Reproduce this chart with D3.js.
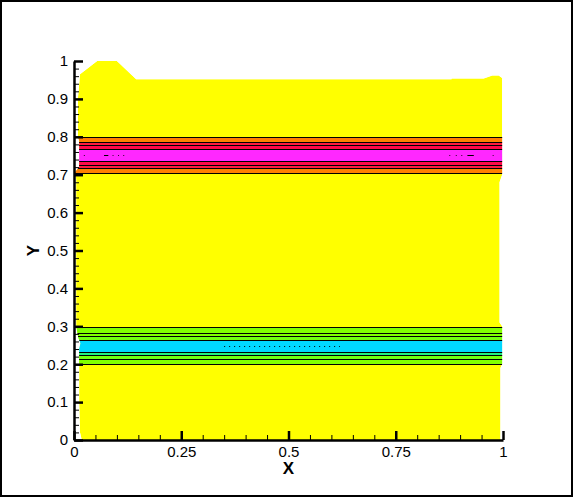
<!DOCTYPE html>
<html>
<head>
<meta charset="utf-8">
<script src="https://cdn.jsdelivr.net/npm/d3@7"></script>
<style>
  body { margin: 0; background: #fff; }
  svg { display: block; }
</style>
</head>
<body>
<div id="chart"></div>
<script>
// Chart size
var W = 573, H = 497;
var margin = { top: 61, right: 70, bottom: 57, left: 74 };

// Tick values
var xMajor = [0, 0.25, 0.5, 0.75, 1];
var xMinor = [0.05, 0.1, 0.15, 0.2, 0.3, 0.35, 0.4, 0.45, 0.55, 0.6, 0.65, 0.7, 0.8, 0.85, 0.9, 0.95];
var yMajor = [0, 0.1, 0.2, 0.3, 0.4, 0.5, 0.6, 0.7, 0.8, 0.9, 1];
var yMinor = [0.02, 0.04, 0.06, 0.08, 0.12, 0.14, 0.16, 0.18, 0.22, 0.24, 0.26, 0.28,
              0.32, 0.34, 0.36, 0.38, 0.42, 0.44, 0.46, 0.48, 0.52, 0.54, 0.56, 0.58,
              0.62, 0.64, 0.66, 0.68, 0.72, 0.74, 0.76, 0.78, 0.82, 0.84, 0.86, 0.88,
              0.92, 0.94, 0.96, 0.98];

// Outline of the flooded region (x, y pairs, clockwise from lower left)
var outlineX = [0.018, 0.014, 0.012, 0.012, 0.015, 0.010, 0.005, 0.005, 0.000, 0.012, 0.012, 0.009, 0.009, 0.014,
                0.054, 0.100, 0.145, 0.880, 0.880, 0.955, 0.975, 0.990, 0.998,
                0.998, 0.995, 0.992, 0.992, 0.998, 0.998, 0.994, 0.994];
var outlineY = [0.000, 0.020, 0.100, 0.240, 0.255, 0.270, 0.300, 0.690, 0.703, 0.720, 0.790, 0.800, 0.900, 0.965,
                1.000, 1.000, 0.952, 0.952, 0.954, 0.954, 0.962, 0.962, 0.955,
                0.700, 0.690, 0.680, 0.310, 0.300, 0.200, 0.190, 0.000];

// Contour levels (y positions where the field crosses each level)
var levelsY = [0.800, 0.785, 0.778, 0.767, 0.737, 0.726, 0.717, 0.704,
               0.297, 0.282, 0.275, 0.264, 0.231, 0.224, 0.214, 0.200];

// Flood bands between levels
var bandTop    = [0.800, 0.785, 0.778, 0.767, 0.737, 0.726, 0.717, 0.297, 0.282, 0.275, 0.264, 0.231, 0.224, 0.214];
var bandBottom = [0.785, 0.778, 0.767, 0.737, 0.726, 0.717, 0.704, 0.282, 0.275, 0.264, 0.231, 0.224, 0.214, 0.200];
var bandColor  = ["#ff8000", "#ff1a40", "#ff0a48", "#ff28ff", "#ff0a48", "#ff1a40", "#ff8000",
                  "#80ff00", "#80ff00", "#70ff10", "#00d8ff", "#20f080", "#70ff10", "#80ff00"];

// Small dotted contour fragments [x start, x end, y]
var fragX0 = [0.023, 0.070, 0.090, 0.103, 0.115, 0.875, 0.890, 0.903, 0.917, 0.976, 0.350];
var fragX1 = [0.025, 0.080, 0.092, 0.105, 0.117, 0.877, 0.892, 0.905, 0.932, 0.978, 0.620];
var fragY  = [0.752, 0.752, 0.752, 0.752, 0.752, 0.752, 0.752, 0.752, 0.752, 0.752, 0.249];

var x = d3.scaleLinear().domain([0, 1]).range([margin.left, 503]);
var y = d3.scaleLinear().domain([0, 1]).range([H - margin.bottom, margin.top]);

var svg = d3.select("#chart").append("svg")
    .attr("width", W)
    .attr("height", H);

// Outer frame
svg.append("rect")
    .attr("x", 1).attr("y", 1)
    .attr("width", W - 2).attr("height", H - 2)
    .attr("fill", "#fff")
    .attr("stroke", "#000")
    .attr("stroke-width", 2);

// Clip to the flooded region
var outline = outlineX.map(function (d, i) { return [d, outlineY[i]]; });
var line = d3.line()
    .x(function (d) { return x(d[0]); })
    .y(function (d) { return y(d[1]); });

svg.append("clipPath")
    .attr("id", "domain")
    .append("path")
    .attr("d", line(outline) + "Z");

var plot = svg.append("g").attr("clip-path", "url(#domain)");

// Base fill
plot.append("path")
    .attr("d", line(outline) + "Z")
    .attr("fill", "#ffff00");

// Bands
plot.selectAll(".band")
    .data(bandColor)
    .enter()
    .append("rect")
    .attr("class", "band")
    .attr("x", x(0))
    .attr("width", x(1) - x(0))
    .attr("y", function (d, i) { return y(bandTop[i]); })
    .attr("height", function (d, i) { return y(bandBottom[i]) - y(bandTop[i]); })
    .attr("fill", function (d) { return d; })
    .attr("shape-rendering", "crispEdges");

// Contour lines
plot.selectAll(".level")
    .data(levelsY)
    .enter()
    .append("line")
    .attr("class", "level")
    .attr("x1", x(0)).attr("x2", x(1))
    .attr("y1", function (d) { return Math.round(y(d)) + 0.5; })
    .attr("y2", function (d) { return Math.round(y(d)) + 0.5; })
    .attr("stroke", "#000")
    .attr("stroke-width", 1.2);

// Dotted fragments
plot.selectAll(".frag")
    .data(fragY)
    .enter()
    .append("line")
    .attr("class", "frag")
    .attr("x1", function (d, i) { return x(fragX0[i]); })
    .attr("x2", function (d, i) { return x(fragX1[i]); })
    .attr("y1", function (d) { return Math.round(y(d)) + 0.5; })
    .attr("y2", function (d) { return Math.round(y(d)) + 0.5; })
    .attr("stroke", "#000")
    .attr("stroke-width", 1)
    .attr("stroke-dasharray", function (d, i) { return i === fragY.length - 1 ? "1,4" : null; });

var font = "'Liberation Sans', Arial, sans-serif";

// Y axis
var yAxis = svg.append("g")
    .attr("transform", "translate(" + x(0) + ",0)")
    .call(d3.axisLeft(y).tickValues(yMajor).tickSize(-9).tickSizeOuter(0).tickPadding(6)
        .tickFormat(function (d) { return d3.format("~g")(d); }));
svg.append("g")
    .attr("transform", "translate(" + x(0) + ",0)")
    .call(d3.axisLeft(y).tickValues(yMinor).tickSize(-5).tickSizeOuter(0).tickFormat(""))
    .select(".domain").remove();

// X axis
var xAxis = svg.append("g")
    .attr("transform", "translate(0," + y(0) + ")")
    .call(d3.axisBottom(x).tickValues(xMajor).tickSize(-9).tickSizeOuter(0).tickPadding(6)
        .tickFormat(function (d) { return d3.format("~g")(d); }));
svg.append("g")
    .attr("transform", "translate(0," + y(0) + ")")
    .call(d3.axisBottom(x).tickValues(xMinor).tickSize(-5).tickSizeOuter(0).tickFormat(""))
    .select(".domain").remove();

svg.selectAll(".domain").attr("stroke-width", 2.5);
yAxis.selectAll(".tick line").attr("stroke-width", 2.5);
xAxis.selectAll(".tick line").attr("stroke-width", 2.5);
svg.selectAll(".tick text")
    .attr("font-family", font)
    .attr("font-size", 15)
    .attr("fill", "#000");

// Axis titles
svg.append("text")
    .attr("x", x(0.5))
    .attr("y", 474)
    .attr("text-anchor", "middle")
    .attr("font-family", font)
    .attr("font-size", 17)
    .attr("font-weight", "bold")
    .text("X");

svg.append("text")
    .attr("transform", "translate(39," + y(0.5) + ") rotate(-90)")
    .attr("text-anchor", "middle")
    .attr("font-family", font)
    .attr("font-size", 17)
    .attr("font-weight", "bold")
    .text("Y");
</script>
</body>
</html>
